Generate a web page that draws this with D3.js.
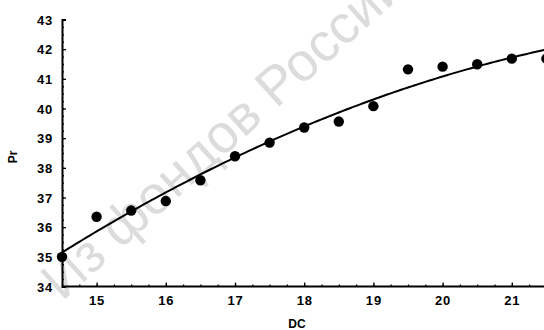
<!DOCTYPE html>
<html>
<head>
<meta charset="utf-8">
<script src="https://cdn.jsdelivr.net/npm/d3@7"></script>
<style>
  body { margin: 0; background: #fff; }
  svg { display: block; }
  .tick-label { font-family: "Liberation Sans", Arial, sans-serif; font-weight: bold; font-size: 13px; letter-spacing: 0.8px; fill: #000; }
  .axis-title { font-family: "Liberation Sans", Arial, sans-serif; font-weight: bold; font-size: 12px; fill: #000; }
  .watermark { font-family: "Liberation Sans", Arial, sans-serif; font-size: 54px; fill: #dcdcdc; }
</style>
</head>
<body>
<svg id="chart" width="544" height="330"></svg>
<script>
// data
const dcValues = [14.5, 15, 15.5, 16, 16.5, 17, 17.5, 18, 18.5, 19, 19.5, 20, 20.5, 21, 21.5];
const prValues = [35.0, 36.35, 36.56, 36.88, 37.58, 38.39, 38.85, 39.36, 39.56, 40.08, 41.32, 41.41, 41.49, 41.68, 41.68];
const xTickValues = [15, 16, 17, 18, 19, 20, 21];
const yTickValues = [34, 35, 36, 37, 38, 39, 40, 41, 42, 43];

const width = 544, height = 330;
const margin = {left: 62, top: 19.5, bottom: 286.5};

const svg = d3.select('#chart');

// scales
const xScale = d3.scaleLinear().domain([14.5, 21.5]).range([margin.left, margin.left + 14 * 34.6]);
const yScale = d3.scaleLinear().domain([34, 43]).range([margin.bottom, margin.top]);

// watermark from the scan
svg.append('text')
  .attr('class', 'watermark')
  .attr('transform', 'translate(62,302) rotate(-42)')
  .text('Из фондов Российской государственной библиотеки');

// quadratic least squares fit of the points
function quadFit(xs, ys){
  let s = [0,0,0,0,0], t = [0,0,0];
  xs.forEach((x, i) => {
    let p = 1;
    for (let k = 0; k < 5; k++){ s[k] += p; if (k < 3) t[k] += p * ys[i]; p *= x; }
  });
  const A = [[s[0], s[1], s[2], t[0]], [s[1], s[2], s[3], t[1]], [s[2], s[3], s[4], t[2]]];
  for (let i = 0; i < 3; i++){
    for (let j = i + 1; j < 3; j++){
      const f = A[j][i] / A[i][i];
      for (let k = i; k < 4; k++) A[j][k] -= f * A[i][k];
    }
  }
  const c = [0,0,0];
  for (let i = 2; i >= 0; i--){
    let v = A[i][3];
    for (let k = i + 1; k < 3; k++) v -= A[i][k] * c[k];
    c[i] = v / A[i][i];
  }
  return x => c[0] + c[1] * x + c[2] * x * x;
}
const fit = quadFit(dcValues, prValues);
const curveX = d3.range(14.5, 22.01, 0.05);

svg.append('path')
  .datum(curveX)
  .attr('fill', 'none')
  .attr('stroke', '#000')
  .attr('stroke-width', 2)
  .attr('d', d3.line().x(d => xScale(d)).y(d => yScale(fit(d))));

// points
svg.selectAll('.pt')
  .data(dcValues)
  .enter()
  .append('circle')
  .attr('class', 'pt')
  .attr('cx', d => xScale(d))
  .attr('cy', (d, i) => yScale(prValues[i]))
  .attr('r', 5.2)
  .attr('fill', '#000');

// axes
const yAxis = d3.axisLeft(yScale).tickValues(yTickValues).tickSize(-4).tickPadding(12).tickFormat(d3.format('d'));
const yMinor = d3.axisLeft(yScale).tickValues(d3.range(34, 43.01, 0.25)).tickSize(-2).tickFormat('');
const xAxis = d3.axisBottom(xScale).tickValues(xTickValues).tickSize(-4).tickPadding(12).tickFormat(d3.format('d'));
const xMinor = d3.axisBottom(xScale).tickValues(d3.range(14.5, 21.8, 0.25)).tickSize(-2).tickFormat('');

const yMinorNode = svg.append('g').attr('transform', `translate(${margin.left},0)`).call(yMinor);
const yAxisNode = svg.append('g').attr('transform', `translate(${margin.left},0)`).call(yAxis);
const xMinorNode = svg.append('g').attr('transform', `translate(0,${margin.bottom})`).call(xMinor);
const xAxisNode = svg.append('g').attr('transform', `translate(0,${margin.bottom})`).call(xAxis);

[yAxisNode, yMinorNode, xAxisNode, xMinorNode].forEach(g => {
  g.select('.domain').attr('stroke', '#000').attr('stroke-width', 2);
  g.selectAll('.tick line').attr('stroke', '#000').attr('stroke-width', 1.3);
});
xAxisNode.select('.domain').attr('d', `M${margin.left},0H${width}`);
xMinorNode.select('.domain').remove();
yMinorNode.select('.domain').remove();

yAxisNode.selectAll('.tick text').attr('class', 'tick-label').attr('x', -9).attr('dy', '0.36em');
xAxisNode.selectAll('.tick text').attr('class', 'tick-label').attr('y', 9).attr('dy', '0.71em');

// axis titles
svg.append('text')
  .attr('class', 'axis-title')
  .attr('text-anchor', 'middle')
  .attr('transform', 'translate(17,157) rotate(-90)')
  .text('Pr');
svg.append('text')
  .attr('class', 'axis-title')
  .attr('text-anchor', 'middle')
  .attr('x', 297)
  .attr('y', 328)
  .text('DC');
</script>
</body>
</html>
